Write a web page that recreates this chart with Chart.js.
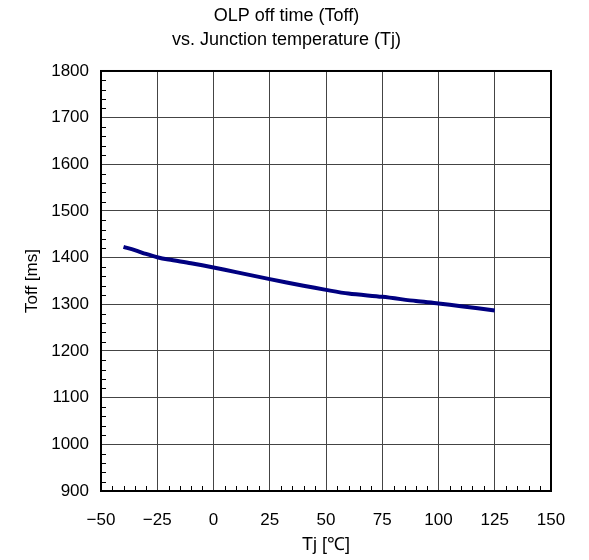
<!DOCTYPE html>
<html>
<head>
<meta charset="utf-8">
<script src="https://cdn.jsdelivr.net/npm/chart.js@4"></script>
<style>
  html, body { margin: 0; padding: 0; background: #fff; }
  #wrap { width: 589px; height: 560px; }
</style>
</head>
<body>
<div id="wrap"><canvas id="toffChart" width="589" height="560"></canvas></div>
<script>
var tj = [-40, -35, -30, -25, -20, -10, 0, 10, 25, 40, 50, 60, 75, 90, 100, 110, 125];
var toff = [1423, 1416, 1408, 1401, 1396, 1388, 1379, 1369, 1354, 1340, 1331, 1323, 1316, 1307, 1302, 1296, 1287];

var xMin = -50, xMax = 150, xStep = 25, xMinor = 5;
var yMin = 900, yMax = 1800, yStep = 100, yMinor = 20;

var FONT = "'Liberation Sans', Arial, sans-serif";

function minus(v) {
    return v < 0 ? "\u2212" + Math.abs(v) : String(v);
}

// frame + inward minor ticks
var framePlugin = {
    id: "frame",
    afterDraw: function (chart) {
        var c = chart.ctx, a = chart.chartArea;
        var xs = chart.scales.x, ys = chart.scales.y;
        c.save();
        c.strokeStyle = "#000";
        c.lineWidth = 1;
        c.beginPath();
        for (var v = xMin; v <= xMax; v += xMinor) {
            if (v % xStep === 0) continue;
            var px = Math.round(xs.getPixelForValue(v)) + 0.5;
            c.moveTo(px, a.bottom);
            c.lineTo(px, a.bottom - 5);
        }
        for (var w = yMin; w <= yMax; w += yMinor) {
            if (w % yStep === 0) continue;
            var py = Math.round(ys.getPixelForValue(w)) + 0.5;
            c.moveTo(a.left, py);
            c.lineTo(a.left + 5, py);
        }
        c.stroke();
        c.lineWidth = 2;
        c.strokeRect(a.left, a.top, a.right - a.left, a.bottom - a.top);
        c.restore();
    }
};

new Chart(document.getElementById("toffChart").getContext("2d"), {
    type: "line",
    data: {
        datasets: [{
            data: tj.map(function (t, i) { return { x: t, y: toff[i] }; }),
            borderColor: "#000080",
            borderWidth: 4,
            pointRadius: 0,
            tension: 0.3,
            fill: false
        }]
    },
    options: {
        responsive: false,
        animation: false,
        layout: { padding: { left: 22, right: 38, top: 4, bottom: 4 } },
        plugins: {
            legend: { display: false },
            tooltip: { enabled: false },
            title: {
                display: true,
                text: ["OLP off time (Toff)", "vs. Junction temperature (Tj)"],
                color: "#000",
                font: { family: FONT, size: 18, weight: "normal", lineHeight: 1.333 },
                padding: { top: 0, bottom: 19 }
            }
        },
        scales: {
            x: {
                type: "linear",
                min: xMin,
                max: xMax,
                afterFit: function (s) { s.height = 65; },
                ticks: {
                    stepSize: xStep,
                    color: "#000",
                    font: { family: FONT, size: 17 },
                    padding: 19,
                    callback: function (v) { return minus(v); }
                },
                grid: { color: "#444", lineWidth: 1, drawTicks: false },
                border: { color: "#000", width: 2 },
                title: {
                    display: true,
                    text: "Tj [\u2103]",
                    color: "#000",
                    font: { family: FONT, size: 18 },
                    padding: { top: 0, bottom: 0 }
                }
            },
            y: {
                type: "linear",
                min: yMin,
                max: yMax,
                afterFit: function (s) { s.width = 79; },
                ticks: {
                    stepSize: yStep,
                    color: "#000",
                    font: { family: FONT, size: 17 },
                    padding: 12,
                    callback: function (v) { return String(v); }
                },
                grid: { color: "#444", lineWidth: 1, drawTicks: false },
                border: { color: "#000", width: 2 },
                title: {
                    display: true,
                    text: "Toff [ms]",
                    color: "#000",
                    font: { family: FONT, size: 17 },
                    padding: { top: 0, bottom: 0 }
                }
            }
        }
    },
    plugins: [framePlugin]
});
</script>
</body>
</html>
